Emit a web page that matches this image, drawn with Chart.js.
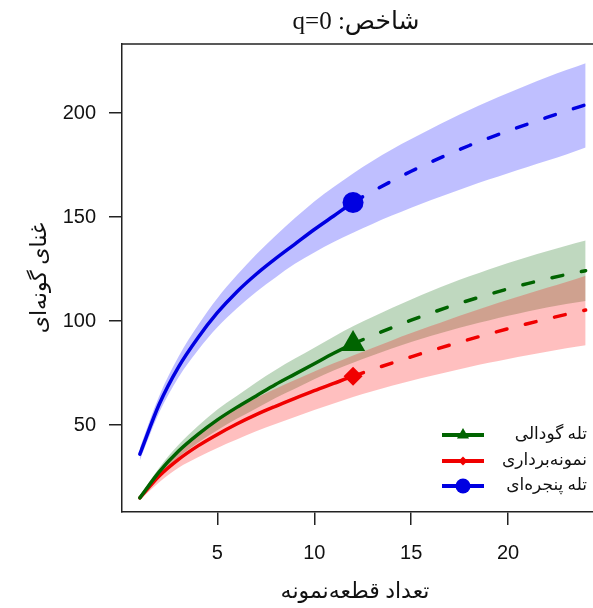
<!DOCTYPE html>
<html>
<head>
<meta charset="utf-8">
<script src="https://cdn.jsdelivr.net/npm/chart.js@4.4.1/dist/chart.umd.min.js"></script>
<style>
  html, body { margin: 0; padding: 0; background: #fff; }
</style>
</head>
<body>
<canvas id="myChart" width="593" height="608"></canvas>
<script>
// number of sample plots (x axis)
const plots = [1, 2, 3, 4, 5, 6, 7, 8, 9, 10, 11, 12, 13, 14, 15, 16, 17, 18, 19, 20, 21, 22, 23, 24];
const refX = 12; // observed sample size, solid before / dashed after

// window traps (blue)
const blueMean = [36, 60, 78, 92, 104, 114, 122.5, 130, 137, 144, 150.5, 157, 162.3, 167.3, 172, 176.4, 180.5, 184.4, 188, 191.4, 194.7, 197.9, 201, 204];
const blueLo = [33, 56, 73, 86, 97, 106, 114, 121, 127.5, 133, 138, 142.5, 146.7, 150.7, 154.5, 158.1, 161.5, 164.8, 168, 171.1, 174.1, 177.1, 180.1, 183.5];
const blueHi = [39, 64, 83, 98, 111, 122, 132, 141, 149.5, 157.5, 164.5, 171, 177, 182.5, 187.5, 192.3, 197, 201.5, 205.7, 209.7, 213.5, 217.2, 220.7, 224];

// pitfall traps (green)
const greenMean = [15, 27.5, 37.5, 45.5, 52.5, 58.5, 64, 69.5, 74.5, 79.5, 84.5, 89, 93, 96.8, 100.4, 103.8, 107, 110, 112.8, 115.5, 118, 120.3, 122.3, 124.2];
const greenLo = [14, 25.5, 34.5, 41.5, 47.5, 53, 58, 63, 67.5, 72, 76.2, 80, 83.5, 86.8, 89.9, 92.8, 95.5, 98, 100.3, 102.5, 104.6, 106.5, 108.2, 109.7];
const greenHi = [16, 29.5, 40.5, 49.5, 57.5, 64, 70.5, 76.5, 82, 87.2, 92.5, 97.5, 102, 106.3, 110.4, 114.3, 118, 121.5, 124.8, 127.9, 130.8, 133.6, 136.2, 138.7];

// sampling (red)
const redMean = [15, 25.5, 33.5, 40, 45.5, 50.5, 55, 59, 62.8, 66.5, 70, 73.5, 76.7, 79.8, 82.8, 85.7, 88.5, 91.2, 93.8, 96.3, 98.7, 101, 103.2, 105.3];
const redLo = [14, 22.5, 29.5, 34.5, 39, 43, 47, 50.5, 53.9, 57.2, 60.4, 63.5, 66.3, 68.9, 71.3, 73.6, 75.8, 77.9, 79.9, 81.8, 83.6, 85.3, 86.9, 88.4];
const redHi = [16, 28.5, 37.5, 45.5, 52, 58, 63, 67.5, 71.7, 75.8, 79.7, 83.5, 87.1, 90.7, 94.2, 97.6, 100.9, 104.1, 107.2, 110.2, 113.1, 116, 118.8, 121.8];

const xTicks = [5, 10, 15, 20];
const yTicks = [50, 100, 150, 200];

const titleText = "شاخص: q=0";
const xLabel = "تعداد قطعه‌نمونه";
const yLabel = "غنای گونه‌ای";
const legendLabels = ["تله گودالی", "نمونه‌برداری", "تله پنجره‌ای"];

const BLUE = "rgb(0,0,225)", GREEN = "rgb(0,100,0)", RED = "rgb(240,0,0)";

function pts(ys) {
  return plots.map((x, i) => ({ x: x, y: ys[i] }));
}

function band(lo, hi, color, order) {
  return [
    { data: pts(lo), borderWidth: 0, pointRadius: 0, fill: false, order: order, cubicInterpolationMode: "monotone" },
    { data: pts(hi), borderWidth: 0, pointRadius: 0, fill: "-1", backgroundColor: color, order: order, cubicInterpolationMode: "monotone" }
  ];
}

function curve(ys, color, style, radius) {
  return {
    data: pts(ys),
    borderColor: color,
    borderWidth: 3.5,
    borderCapStyle: "round",
    cubicInterpolationMode: "monotone",
    fill: false,
    order: 0,
    segment: {
      borderDash: (ctx) => (ctx.p0.parsed.x >= refX ? [11, 19] : undefined)
    },
    pointStyle: style,
    pointRadius: (ctx) => (ctx.raw && ctx.raw.x === refX ? radius : 0),
    pointBackgroundColor: color,
    pointBorderWidth: 0
  };
}

const decor = {
  id: "decor",
  afterDraw(chart) {
    const ctx = chart.ctx;
    const a = chart.chartArea;
    ctx.save();
    // top frame line
    ctx.strokeStyle = "#222";
    ctx.lineWidth = 1.5;
    ctx.beginPath();
    ctx.moveTo(a.left, a.top);
    ctx.lineTo(a.right, a.top);
    ctx.stroke();

    ctx.fillStyle = "#111";
    ctx.direction = "rtl";
    ctx.textAlign = "center";
    ctx.textBaseline = "middle";
    ctx.font = "25px 'Liberation Serif', 'DejaVu Sans', serif";
    ctx.fillText(titleText, 356, 22);
    ctx.font = "22px 'Liberation Serif', 'DejaVu Sans', serif";
    ctx.fillText(xLabel, 355, 592);
    ctx.save();
    ctx.translate(40, (a.top + a.bottom) / 2);
    ctx.rotate(-Math.PI / 2);
    ctx.fillText(yLabel, 0, 0);
    ctx.restore();

    // legend
    const cols = [GREEN, RED, BLUE];
    const styles = ["triangle", "rectRot", "circle"];
    const rads = [7, 4.5, 7.5];
    const rows = [435, 461, 486];
    ctx.font = "17px 'Liberation Serif', 'DejaVu Sans', serif";
    ctx.textAlign = "right";
    for (let i = 0; i < legendLabels.length; i++) {
      ctx.strokeStyle = cols[i];
      ctx.lineWidth = 4;
      ctx.beginPath();
      ctx.moveTo(442, rows[i]);
      ctx.lineTo(484, rows[i]);
      ctx.stroke();
      ctx.fillStyle = cols[i];
      Chart.helpers.drawPoint(ctx, { pointStyle: styles[i], radius: rads[i], rotation: 0, borderWidth: 0 }, 463, rows[i]);
      ctx.fillStyle = "#111";
      ctx.fillText(legendLabels[i], 587, rows[i]);
    }
    ctx.restore();
  }
};

new Chart(document.getElementById("myChart"), {
  type: "line",
  data: {
    datasets: [
      curve(blueMean, BLUE, "circle", 10.5),
      curve(greenMean, GREEN, "triangle", 14),
      curve(redMean, RED, "rectRot", 9.5),
      ...band(redLo, redHi, "rgba(255,0,0,0.25)", 1),
      ...band(greenLo, greenHi, "rgba(0,100,0,0.25)", 2),
      ...band(blueLo, blueHi, "rgba(0,0,255,0.25)", 3)
    ]
  },
  options: {
    responsive: false,
    animation: false,
    events: [],
    layout: { padding: { left: 0, right: 0, top: 44, bottom: 0 } },
    plugins: { legend: { display: false }, tooltip: { enabled: false } },
    scales: {
      x: {
        type: "linear",
        min: 0.08,
        max: 24.38,
        afterFit: (s) => { s.height = 96; },
        afterBuildTicks: (s) => { s.ticks = xTicks.map((v) => ({ value: v })); },
        grid: { drawOnChartArea: false, drawTicks: true, tickLength: 13, color: "#222", lineWidth: 1.5 },
        border: { display: true, color: "#222", width: 1.5 },
        ticks: { color: "#111", padding: 16, maxRotation: 0, font: { family: "'Liberation Sans', Arial, sans-serif", size: 20 } }
      },
      y: {
        min: 8.2,
        max: 233.2,
        afterFit: (s) => { s.width = 122; },
        afterBuildTicks: (s) => { s.ticks = yTicks.map((v) => ({ value: v })); },
        grid: { drawOnChartArea: false, drawTicks: true, tickLength: 13, color: "#222", lineWidth: 1.5 },
        border: { display: true, color: "#222", width: 1.5 },
        ticks: { color: "#111", padding: 13, font: { family: "'Liberation Sans', Arial, sans-serif", size: 20 } }
      }
    }
  },
  plugins: [decor]
});
</script>
</body>
</html>
